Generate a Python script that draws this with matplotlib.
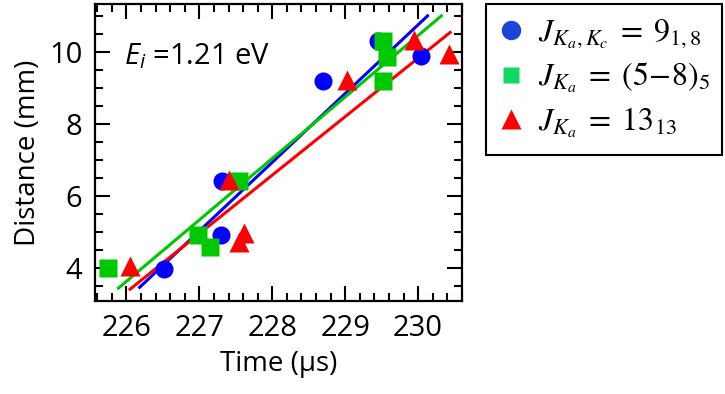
import matplotlib
matplotlib.use("Agg")
import matplotlib.pyplot as plt
from matplotlib.lines import Line2D
from matplotlib.patches import Rectangle
from matplotlib.font_manager import FontProperties

# ---- data ----
blue_t = [226.52, 227.31, 227.30, 228.70, 229.45, 230.04]
blue_d = [3.96, 6.40, 4.92, 9.20, 10.29, 9.89]

green_t = [225.75, 226.98, 227.14, 227.55, 229.52, 229.57, 229.52]
green_d = [3.99, 4.92, 4.59, 6.40, 10.29, 9.87, 9.18]

red_t = [226.05, 227.41, 227.54, 227.61, 229.02, 229.95, 230.43]
red_d = [4.04, 6.45, 4.73, 4.96, 9.22, 10.33, 9.94]

fit_blue_t = [226.18, 230.13]
fit_blue_d = [3.46, 11.00]
fit_green_t = [225.89, 230.32]
fit_green_d = [3.44, 11.00]
fit_red_t = [226.05, 230.44]
fit_red_d = [3.41, 10.54]

xticks = [226, 227, 228, 229, 230]
yticks = [4, 6, 8, 10]
legend_labels = [r"$J_{K_a,K_c}\;=\;9_{1,8}$", r"$J_{K_a}\;=\;(5\!-\!8)_5$", r"$J_{K_a}\;=\;13_{13}$"]

# ---- style ----
plt.rcParams['font.family'] = ['Open Sans', 'DejaVu Sans']
plt.rcParams['mathtext.fontset'] = 'custom'
plt.rcParams['mathtext.rm'] = 'Open Sans'
plt.rcParams['mathtext.it'] = 'Open Sans:italic'

fig = plt.figure(figsize=(7.25, 3.94), dpi=100)
ax = fig.add_axes([0.131, 0.235, 0.506, 0.754])

BLUE, GREEN, RED = '#0000ff', '#00c800', '#ff0000'
ms = 13
ax.plot(fit_blue_t, fit_blue_d, color=BLUE, lw=2.2, zorder=2)
ax.plot(fit_green_t, fit_green_d, color=GREEN, lw=2.2, zorder=2)
ax.plot(fit_red_t, fit_red_d, color=RED, lw=2.2, zorder=2)
ax.plot(blue_t, blue_d, 'o', color=BLUE, ms=ms, mec='none', zorder=3)
ax.plot(green_t, green_d, 's', color=GREEN, ms=ms, mec='none', zorder=3)
ax.plot(red_t, red_d, '^', color=RED, ms=ms + 1, mec='none', zorder=3)

ax.set_xlim(225.568, 230.574)
ax.set_ylim(3.07, 11.32)
ax.set_xticks(xticks)
ax.set_yticks(yticks)
ax.set_xticks([226 + 0.2 * i for i in range(-2, 24)], minor=True)
ax.set_yticks([3.5 + 0.5 * i for i in range(16)], minor=True)
ax.tick_params(which='both', direction='in', top=True, right=True, width=1.5)
ax.tick_params(which='major', length=11, labelsize=21, pad=9)
ax.tick_params(which='minor', length=5.5)
for s in ax.spines.values():
    s.set_linewidth(1.6)

ax.set_xlabel('Time (µs)', fontsize=20, labelpad=5)
ax.set_ylabel('Distance (mm)', fontsize=20, labelpad=5)

ax.text(0.08, 0.80, r'$E_i$ =1.21 eV', transform=ax.transAxes, fontsize=21,
        va='baseline', ha='left')

# legend frame box
W, H = 725.0, 394.0
fig.patches.append(Rectangle((486 / W, 1 - 155 / H), (722 - 486) / W, (155 - 4) / H,
                             transform=fig.transFigure, fill=False, ec='black', lw=1.5))

handles = [
    Line2D([], [], marker='o', ls='none', color='#1b44d9', ms=ms + 1, mec='none'),
    Line2D([], [], marker='s', ls='none', color='#10d862', ms=ms - 1, mec='none'),
    Line2D([], [], marker='^', ls='none', color='#ff0000', ms=ms + 1, mec='none'),
]
leg = fig.legend(handles, legend_labels, loc='upper left', bbox_to_anchor=(500 / W, 1 - 17 / H),
                 borderaxespad=0, frameon=False, handlelength=0.7,
                 handletextpad=0.5, labelspacing=0.33, borderpad=0,
                 prop=FontProperties(family='DejaVu Serif', size=23, math_fontfamily='stix'))

fig.savefig('out.png', dpi=100)
